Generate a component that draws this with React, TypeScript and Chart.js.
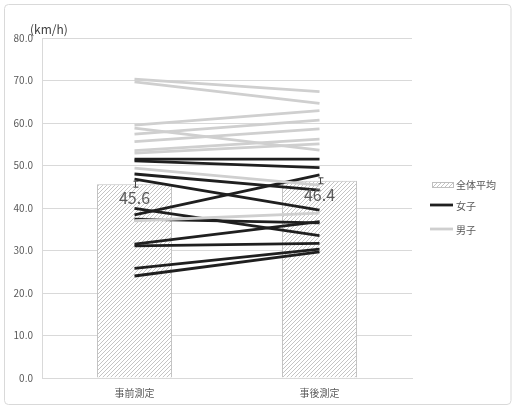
import React, { useEffect, useRef } from 'react';
import { Chart, registerables } from 'chart.js';

Chart.register(...registerables);

const categories = ['事前測定', '事後測定'];
const averages = [45.6, 46.4];
const averageErrors = [0.7, 0.7];
const girlsPre = [51.5, 51.1, 48.0, 46.8, 39.9, 38.4, 37.4, 31.5, 31.1, 25.8, 24.0];
const girlsPost = [51.5, 49.5, 44.2, 39.5, 33.5, 47.8, 36.5, 36.8, 31.7, 30.3, 29.7];
const boysPre = [70.3, 69.7, 59.5, 58.8, 57.4, 55.6, 53.5, 52.9, 49.4, 37.0];
const boysPost = [67.4, 64.6, 62.9, 53.6, 60.7, 58.6, 56.2, 55.1, 45.4, 38.8];
const yTicks = [0, 10, 20, 30, 40, 50, 60, 70, 80];
const legendLabels = ['全体平均', '女子', '男子'];
const unitLabel = '(km/h)';

const FONT = '"Noto Sans CJK JP", "Noto Sans", sans-serif';
const GIRL_COLOR = '#1f1f1f';
const BOY_COLOR = '#cfcfcf';

function makePattern(): CanvasPattern {
  const c = document.createElement('canvas');
  c.width = 4;
  c.height = 4;
  const ctx = c.getContext('2d')!;
  ctx.fillStyle = '#ffffff';
  ctx.fillRect(0, 0, 4, 4);
  ctx.strokeStyle = '#c4c4c4';
  ctx.lineWidth = 1;
  ctx.beginPath();
  ctx.moveTo(0, 4);
  ctx.lineTo(4, 0);
  ctx.moveTo(-1, 1);
  ctx.lineTo(1, -1);
  ctx.moveTo(3, 5);
  ctx.lineTo(5, 3);
  ctx.stroke();
  return ctx.createPattern(c, 'repeat')!;
}

export default function App() {
  const ref = useRef<HTMLCanvasElement | null>(null);

  useEffect(() => {
    document.body.style.margin = '0';
    const canvas = ref.current;
    if (!canvas) return;
    const pattern = makePattern();

    const lineSets: any[] = [];
    girlsPre.forEach((v, i) => {
      lineSets.push({
        type: 'line',
        label: legendLabels[1],
        data: [v, girlsPost[i]],
        borderColor: GIRL_COLOR,
        backgroundColor: GIRL_COLOR,
        borderWidth: 2.8,
        pointRadius: 0,
        order: 1,
      });
    });
    boysPre.forEach((v, i) => {
      lineSets.push({
        type: 'line',
        label: legendLabels[2],
        data: [v, boysPost[i]],
        borderColor: BOY_COLOR,
        backgroundColor: BOY_COLOR,
        borderWidth: 2.8,
        pointRadius: 0,
        order: 0,
      });
    });

    const overlay = {
      id: 'overlay',
      afterDatasetsDraw(chart: any) {
        const ctx: CanvasRenderingContext2D = chart.ctx;
        const ys = chart.scales.y;
        const meta = chart.getDatasetMeta(0);
        ctx.save();
        // error bars
        ctx.strokeStyle = '#404040';
        ctx.lineWidth = 1;
        meta.data.forEach((bar: any, i: number) => {
          const x = Math.round(bar.x) + 0.5;
          const y1 = ys.getPixelForValue(averages[i] + averageErrors[i]);
          const y2 = ys.getPixelForValue(averages[i] - averageErrors[i]);
          ctx.beginPath();
          ctx.moveTo(x, y1);
          ctx.lineTo(x, y2);
          ctx.moveTo(x - 2, y1);
          ctx.lineTo(x + 3, y1);
          ctx.moveTo(x - 2, y2);
          ctx.lineTo(x + 3, y2);
          ctx.stroke();
        });
        // data labels
        ctx.fillStyle = '#595959';
        ctx.font = `16px ${FONT}`;
        ctx.textAlign = 'center';
        ctx.textBaseline = 'middle';
        meta.data.forEach((bar: any, i: number) => {
          ctx.fillText(averages[i].toFixed(1), bar.x, bar.y + 14);
        });
        ctx.restore();
      },
      afterDraw(chart: any) {
        const ctx: CanvasRenderingContext2D = chart.ctx;
        ctx.save();
        // unit title
        ctx.fillStyle = '#404040';
        ctx.font = `12px ${FONT}`;
        ctx.textAlign = 'left';
        ctx.textBaseline = 'middle';
        ctx.fillText(unitLabel, 30, 29);
        // legend
        ctx.font = `10px ${FONT}`;
        ctx.fillStyle = '#595959';
        ctx.fillStyle = pattern;
        ctx.fillRect(432, 183, 21, 5);
        ctx.strokeStyle = '#bfbfbf';
        ctx.lineWidth = 1;
        ctx.strokeRect(432.5, 182.5, 21, 5);
        ctx.fillStyle = '#595959';
        ctx.fillText(legendLabels[0], 456, 185);
        ctx.strokeStyle = GIRL_COLOR;
        ctx.lineWidth = 2.8;
        ctx.beginPath();
        ctx.moveTo(430, 205);
        ctx.lineTo(453, 205);
        ctx.stroke();
        ctx.fillText(legendLabels[1], 456, 206);
        ctx.strokeStyle = BOY_COLOR;
        ctx.beginPath();
        ctx.moveTo(430, 229);
        ctx.lineTo(453, 229);
        ctx.stroke();
        ctx.fillText(legendLabels[2], 456, 230);
        // outer border
        ctx.strokeStyle = '#d9d9d9';
        ctx.lineWidth = 1;
        ctx.beginPath();
        (ctx as any).roundRect(4.5, 4.5, 506.5, 400, 4);
        ctx.stroke();
        ctx.restore();
      },
    };

    const chart = new Chart(canvas, {
      type: 'bar',
      data: {
        labels: categories,
        datasets: [
          {
            type: 'bar',
            label: legendLabels[0],
            data: averages,
            backgroundColor: pattern,
            borderColor: '#bfbfbf',
            borderWidth: 1,
            barPercentage: 0.81,
            categoryPercentage: 0.5,
            order: 2,
          } as any,
          ...lineSets,
        ],
      },
      options: {
        responsive: false,
        animation: false,
        layout: { padding: { left: 0, right: 103, top: 38, bottom: 0 } },
        plugins: {
          legend: { display: false },
          tooltip: { enabled: false },
        },
        scales: {
          x: {
            grid: { display: false, drawTicks: false },
            border: { color: '#d9d9d9' },
            ticks: { color: '#595959', font: { family: FONT, size: 10 }, padding: 9 },
            afterFit: (s: any) => {
              s.height = 30;
            },
          },
          y: {
            min: yTicks[0],
            max: yTicks[yTicks.length - 1],
            afterBuildTicks: (s: any) => {
              s.ticks = yTicks.map((v) => ({ value: v }));
            },
            ticks: {
              color: '#595959',
              font: { family: FONT, size: 10 },
              padding: 9,
              callback: (v: any) => Number(v).toFixed(1),
            },
            grid: { color: '#d9d9d9', drawTicks: false },
            border: { display: true, color: '#d9d9d9' },
            afterFit: (s: any) => {
              s.width = 42;
            },
          },
        },
      },
      plugins: [overlay],
    } as any);

    return () => chart.destroy();
  }, []);

  return (
    <div style={{ position: 'absolute', left: 0, top: 0, width: 515, height: 408, background: '#fff' }}>
      <canvas ref={ref} width={515} height={408} style={{ display: 'block' }} />
    </div>
  );
}
